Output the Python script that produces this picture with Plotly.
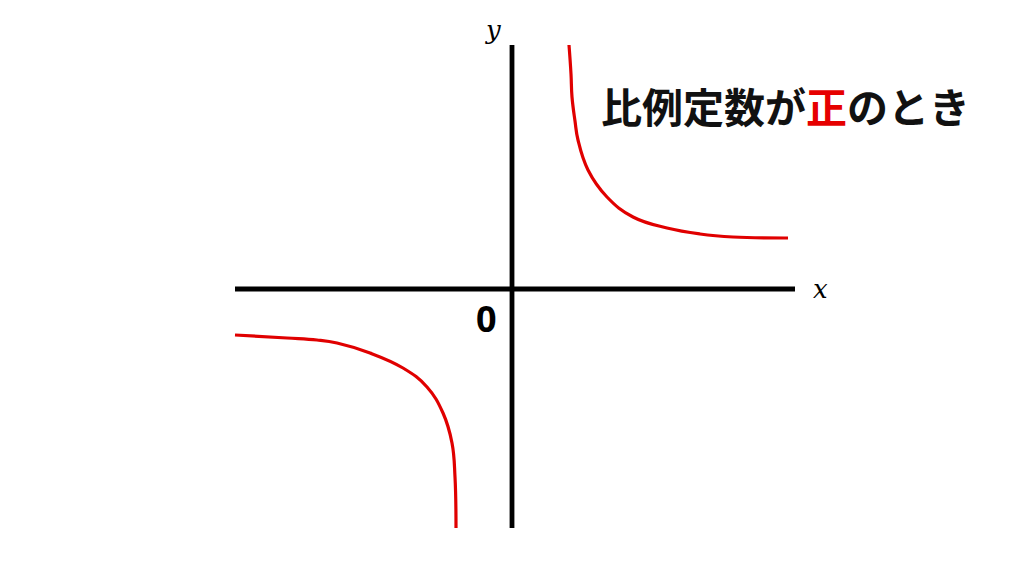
import plotly.graph_objects as go

# Points (1 unit = 100 px, origin at axis crossing)
upper_x = [0.57, 0.59, 0.60, 0.63, 0.66, 0.76, 0.95, 1.21, 1.55, 1.88, 2.21, 2.76]
upper_y = [2.44, 2.15, 1.92, 1.68, 1.49, 1.19, 0.92, 0.72, 0.61, 0.55, 0.52, 0.51]
lower_x = [-2.77, -2.25, -1.95, -1.75, -1.42, -1.09, -0.85, -0.69, -0.60, -0.57, -0.56]
lower_y = [-0.46, -0.49, -0.51, -0.54, -0.64, -0.79, -0.98, -1.24, -1.54, -1.88, -2.39]

title_text = "比例定数が<span style='color:#e60000'>正</span>のとき"

x_axis_span = [-2.77, 2.83]
y_axis_span = [-2.39, 2.44]

RED = "#e00000"

fig = go.Figure()

for xs, ys in [(upper_x, upper_y), (lower_x, lower_y)]:
    fig.add_trace(go.Scatter(
        x=xs, y=ys, mode="lines",
        line=dict(color=RED, width=3.2, shape="spline", smoothing=1.2),
        hoverinfo="skip", showlegend=False,
    ))

# the two axes
fig.add_shape(type="line", x0=x_axis_span[0], x1=x_axis_span[1], y0=0, y1=0,
              line=dict(color="black", width=4.8))
fig.add_shape(type="line", x0=0, x1=0, y0=y_axis_span[0], y1=y_axis_span[1],
              line=dict(color="black", width=4.8))

fig.add_annotation(x=3.08, y=0, text="<i>x</i>", showarrow=False,
                   font=dict(family="DejaVu Serif", size=26, color="black"))
fig.add_annotation(x=-0.19, y=2.59, text="<i>y</i>", showarrow=False,
                   font=dict(family="DejaVu Serif", size=26, color="black"))
fig.add_annotation(x=-0.26, y=-0.29, text="<b>0</b>", showarrow=False,
                   font=dict(family="Noto Sans", size=36, color="black"))
fig.add_annotation(x=2.73, y=1.84, text="<b>" + title_text + "</b>", showarrow=False,
                   font=dict(family="Noto Sans CJK JP", size=41, color="#111111"))

# ranges offset by the 8 px page margin so the axes land where they should
fig.update_layout(
    width=1024, height=576,
    margin=dict(l=0, r=0, t=0, b=0),
    paper_bgcolor="white", plot_bgcolor="white",
    xaxis=dict(range=[-5.04, 5.20], visible=False, fixedrange=True),
    yaxis=dict(range=[-2.95, 2.81], visible=False, fixedrange=True),
)

fig.write_html("out.html")
